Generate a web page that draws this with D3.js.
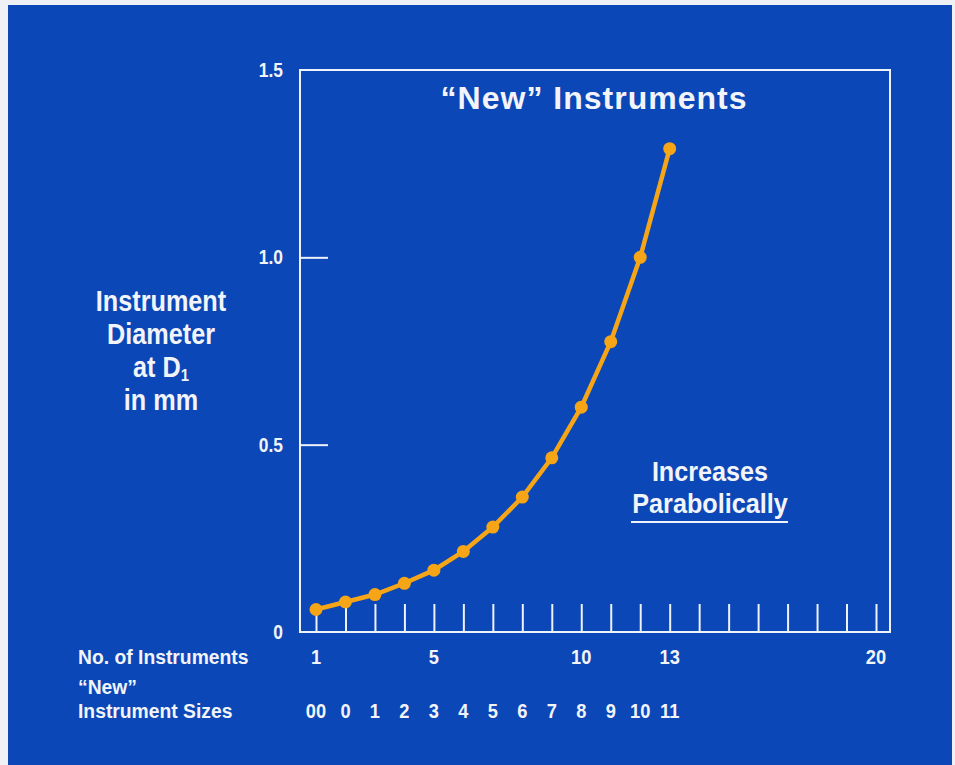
<!DOCTYPE html>
<html>
<head>
<meta charset="utf-8">
<script src="https://cdn.jsdelivr.net/npm/d3@7"></script>
<style>
  body { margin: 0; background: #eef1f6; }
  svg { display: block; }
  text { font-family: "Liberation Sans", Arial, sans-serif; font-weight: bold; fill: #f2f4fa; }
</style>
</head>
<body>
<svg width="955" height="765"></svg>
<script>
// instrument number (1..13) and diameter at D1 in mm
const counts = [1, 2, 3, 4, 5, 6, 7, 8, 9, 10, 11, 12, 13];
const diameters = [0.06, 0.08, 0.10, 0.13, 0.165, 0.215, 0.28, 0.36, 0.465, 0.60, 0.775, 1.00, 1.29];
const sizeLabels = ['00', '0', '1', '2', '3', '4', '5', '6', '7', '8', '9', '10', '11'];
const countTicks = d3.range(1, 21);
const countLabels = [1, 5, 10, 13, 20];
const yLabels = [0, 0.5, 1.0, 1.5];
const yTicks = [0.5, 1.0];

const svg = d3.select('svg');
const white = '#eef2fa';
const orange = '#f5a516';
const squeeze = 0.87; // condensed look

// text drawn narrower than the font, like the original lettering
const label = (parent, px, py, txt, size, anchor = 'start', sx = squeeze) =>
  parent.append('text')
    .attr('transform', `translate(${px}, ${py}) scale(${sx}, 1)`)
    .attr('text-anchor', anchor)
    .style('font-size', size + 'px')
    .text(txt);

svg.append('rect')
  .attr('x', 8).attr('y', 5)
  .attr('width', 944).attr('height', 760)
  .attr('fill', '#0b47b6');

const x = d3.scaleLinear().domain([1, 20]).range([316, 876]);
const y = d3.scaleLinear().domain([0, 1.5]).range([632, 70]);

// frame
svg.append('rect')
  .attr('x', 300).attr('y', y(1.5))
  .attr('width', 890 - 300).attr('height', y(0) - y(1.5))
  .attr('fill', 'none')
  .attr('stroke', white)
  .attr('stroke-width', 2);

// bottom ticks pointing up
const xAxis = svg.append('g')
  .attr('transform', `translate(0, ${y(0)})`)
  .call(d3.axisBottom(x).tickValues(countTicks).tickSize(-28).tickFormat(''));
xAxis.select('.domain').remove();
xAxis.selectAll('line').attr('stroke', white).attr('stroke-width', 2);

// left ticks pointing right
const yAxis = svg.append('g')
  .attr('transform', 'translate(300, 0)')
  .call(d3.axisLeft(y).tickValues(yTicks).tickSize(-28).tickFormat(''));
yAxis.select('.domain').remove();
yAxis.selectAll('line').attr('stroke', white).attr('stroke-width', 2);

yLabels.forEach((d) => {
  label(svg, 283, y(d) + 7, d === 0 ? '0' : d.toFixed(1), 20, 'end');
});

countLabels.forEach((d) => {
  label(svg, x(d), 664, d, 21, 'middle');
});

sizeLabels.forEach((d, i) => {
  label(svg, x(counts[i]), 718, d, 21, 'middle');
});

// row captions
label(svg, 78, 664, 'No. of Instruments', 21, 'start', 0.92);
label(svg, 78, 694, '\u201CNew\u201D', 21, 'start', 0.92);
label(svg, 78, 718, 'Instrument Sizes', 21, 'start', 0.92);

// y axis title
label(svg, 161, 311, 'Instrument', 29, 'middle');
label(svg, 161, 344, 'Diameter', 29, 'middle');
const d1 = label(svg, 161, 377, 'at D', 29, 'middle');
d1.append('tspan').attr('dy', 4).style('font-size', '17px').text('1');
label(svg, 161, 410, 'in mm', 29, 'middle');

// chart title
label(svg, 594, 109, '\u201CNew\u201D Instruments', 32, 'middle', 1)
  .style('letter-spacing', '1px');

// annotation
label(svg, 710, 481, 'Increases', 28, 'middle', 0.9);
label(svg, 710, 513, 'Parabolically', 28, 'middle', 0.9);
svg.append('line')
  .attr('x1', 631).attr('x2', 788).attr('y1', 522).attr('y2', 522)
  .attr('stroke', white).attr('stroke-width', 2);

// data
const data = counts.map((c, i) => ({ c, v: diameters[i] }));

svg.append('path')
  .datum(data)
  .attr('fill', 'none')
  .attr('stroke', orange)
  .attr('stroke-width', 4.5)
  .attr('d', d3.line().x((d) => x(d.c)).y((d) => y(d.v)));

svg.selectAll('circle')
  .data(data)
  .enter()
  .append('circle')
  .attr('cx', (d) => x(d.c))
  .attr('cy', (d) => y(d.v))
  .attr('r', 6.5)
  .attr('fill', orange);
</script>
</body>
</html>
